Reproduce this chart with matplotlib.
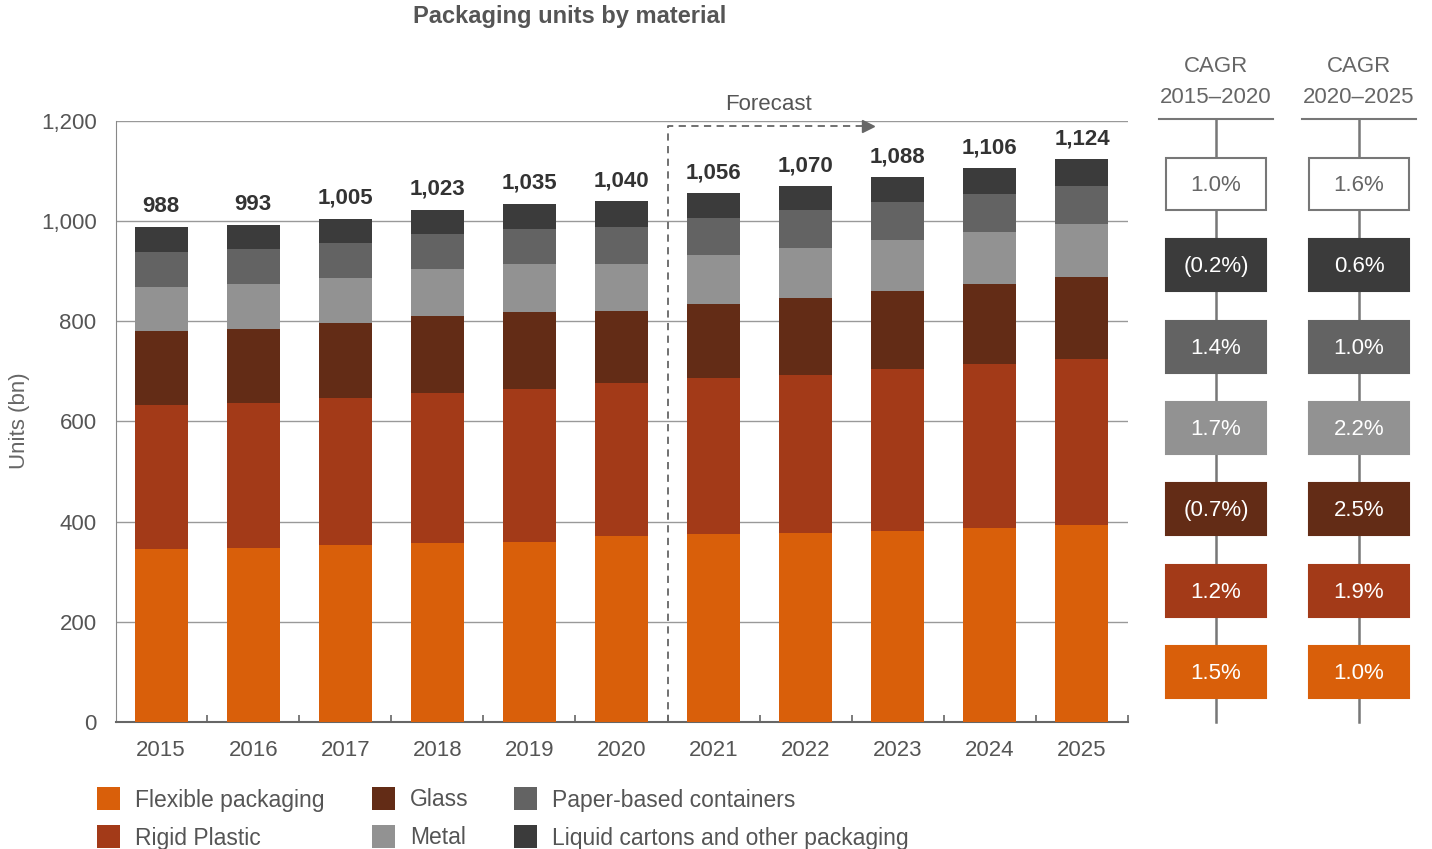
import numpy as np
import matplotlib
matplotlib.use("Agg")
import matplotlib.pyplot as plt
from matplotlib.patches import Rectangle

plt.rcParams['font.family'] = ['Liberation Sans', 'DejaVu Sans']

# data (units, bn)
years = ['2015', '2016', '2017', '2018', '2019', '2020',
         '2021', '2022', '2023', '2024', '2025']
flexible = [345, 347, 353, 357, 360, 372, 375, 378, 382, 387, 393]
rigid    = [287, 290, 293, 300, 304, 304, 311, 314, 322, 328, 332]
glass    = [149, 148, 151, 153, 154, 144, 149, 155, 157, 159, 163]
metal    = [88, 90, 89, 94, 97, 95, 98, 100, 102, 105, 107]
paper    = [70, 70, 70, 70, 70, 74, 74, 75, 75, 76, 76]
liquid   = [49, 48, 49, 49, 50, 51, 49, 48, 50, 51, 53]
totals   = [988, 993, 1005, 1023, 1035, 1040, 1056, 1070, 1088, 1106, 1124]

# CAGR boxes, top to bottom: total, liquid, paper, metal, glass, rigid, flexible
cagr_1520 = ['1.0%', '(0.2%)', '1.4%', '1.7%', '(0.7%)', '1.2%', '1.5%']
cagr_2025 = ['1.6%', '0.6%', '1.0%', '2.2%', '2.5%', '1.9%', '1.0%']
cagr_heads = ['CAGR\n2015\u20132020', 'CAGR\n2020\u20132025']

names = ['Flexible packaging', 'Rigid Plastic', 'Glass', 'Metal',
         'Paper-based containers', 'Liquid cartons and other packaging']
colors = ['#d95f0a', '#a33a18', '#632c16', '#929292', '#636363', '#3b3b3b']
series = [flexible, rigid, glass, metal, paper, liquid]

txt = '#555555'
fig = plt.figure(figsize=(14.32, 8.49), dpi=100)
ax = fig.add_axes([116/1432, 127/849, 1012/1432, 601/849])

x = np.arange(len(years))
bottom = np.zeros(len(years))
for vals, c in zip(series, colors):
    ax.bar(x, vals, 0.575, bottom=bottom, color=c, zorder=3)
    bottom += np.array(vals)

for xi, t in zip(x, totals):
    ax.text(xi, bottom[xi] + 20, f'{t:,}', ha='center', va='bottom',
            fontsize=16, fontweight='bold', color='#333333')

ax.set_xlim(-0.49, 10.49)
ax.set_ylim(0, 1200)
ax.set_yticks(range(0, 1201, 200))
ax.set_yticklabels([f'{v:,}' for v in range(0, 1201, 200)])
ax.yaxis.grid(True, color='#999999', lw=1, zorder=0)
ax.set_xticks(x)
ax.set_xticklabels(years)
ax.set_xticks(np.arange(0.5, 10.6, 1), minor=True)
ax.tick_params(axis='x', which='major', length=0, pad=13, labelsize=16, labelcolor=txt)
ax.tick_params(axis='x', which='minor', direction='in', length=5, color='#666666', width=1.2)
ax.tick_params(axis='y', length=0, pad=14, labelsize=16, labelcolor=txt)
for s in ['top', 'right']:
    ax.spines[s].set_visible(False)
ax.spines['left'].set_color('#888888')
ax.spines['bottom'].set_color('#666666')
ax.spines['bottom'].set_linewidth(1.5)

fig.text(20/1432, 1 - 421/849, 'Units (bn)', rotation=90, ha='center', va='center',
         fontsize=16, color='#666666')

# forecast marker
ax.plot([5.5, 5.5, 7.62], [0, 1190, 1190], ls=(0, (4, 3)), color='#666666', lw=1.3, zorder=4)
ax.plot(7.68, 1190, marker='>', ms=9, color='#666666', zorder=4, clip_on=False)
ax.text(6.6, 1212, 'Forecast', ha='center', va='bottom', fontsize=16, color=txt)

fig.text(570/1432, 1 - 17/849, 'Packaging units by material', ha='center', va='center',
         fontsize=17, fontweight='bold', color=txt)

# overlay in pixel coords for CAGR panel and legend
ov = fig.add_axes([0, 0, 1, 1], zorder=5)
ov.set_xlim(0, 1432)
ov.set_ylim(849, 0)
ov.axis('off')
ov.patch.set_alpha(0)

box_colors = ['white'] + colors[::-1]
for cx, head, vals in zip([1216, 1359], cagr_heads, [cagr_1520, cagr_2025]):
    ov.text(cx, 82, head, ha='center', va='center', fontsize=16, color='#666666',
            linespacing=1.6)
    ov.plot([cx - 57, cx + 57], [119, 119], color='#777777', lw=1.5)
    ov.plot([cx, cx], [119, 722], color='#777777', lw=1.8, zorder=1)
    for i, (v, bc) in enumerate(zip(vals, box_colors)):
        cy = 184 + i * 81.3
        ec = '#777777' if i == 0 else bc
        ov.add_patch(Rectangle((cx - 50, cy - 26), 100, 52, facecolor=bc,
                               edgecolor=ec, lw=1.5, zorder=2))
        ov.text(cx, cy + 1.5, v, ha='center', va='center', fontsize=16,
                color='#666666' if i == 0 else 'white', zorder=3)

# legend
leg_x = [97, 97, 372, 372, 514, 514]
leg_y = [798, 836, 798, 836, 798, 836]
for nm, c, lx, ly in zip(names, colors, leg_x, leg_y):
    ov.add_patch(Rectangle((lx, ly - 11.5), 23, 23, facecolor=c, edgecolor='none'))
    ov.text(lx + 38, ly + 2, nm, ha='left', va='center', fontsize=16.5, color=txt)

fig.savefig('out.png', dpi=100)
